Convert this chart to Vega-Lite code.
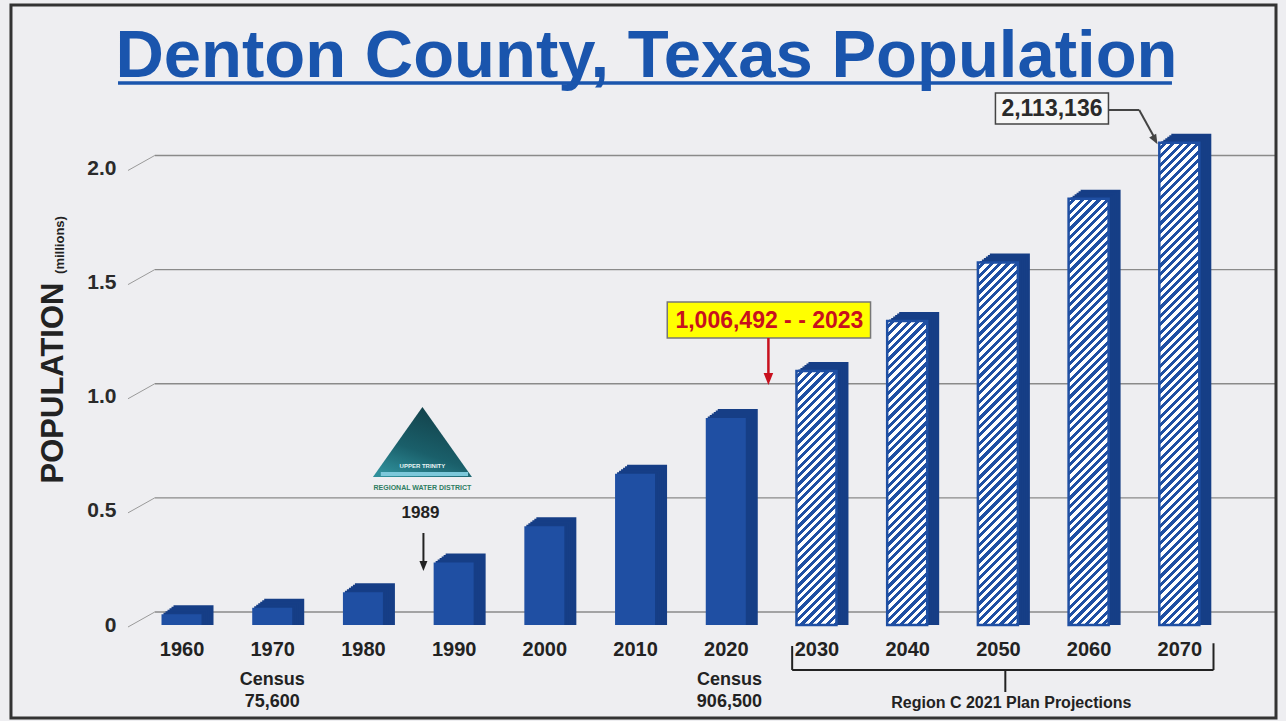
{
  "$schema": "https://vega.github.io/schema/vega-lite/v6.json",
  "width": 1162,
  "height": 525,
  "autosize": {"type": "none"},
  "padding": {"left": 120, "top": 100, "right": 4, "bottom": 96},
  "background": "#eeeef1",
  "config": {
    "view": {"stroke": null},
    "font": "Liberation Sans",
    "text": {"font": "Liberation Sans"},
    "axis": {"grid": false, "ticks": false, "domain": false, "labelFont": "Liberation Sans", "labelFontWeight": "bold", "titleFontSize": 1},
    "axisX": {"labelFontSize": 20, "labelColor": "#222222", "labelPadding": 14, "labelFlush": false, "labelOverlap": false},
    "axisY": {"labelFontSize": 21, "labelColor": "#2a2a2a", "labelPadding": 4}
  },
  "datasets": {
    "pop": [
      {"year": 1960, "pop": 0.0474, "type": "Census"},
      {"year": 1970, "pop": 0.0756, "type": "Census"},
      {"year": 1980, "pop": 0.1431, "type": "Census"},
      {"year": 1990, "pop": 0.2735, "type": "Census"},
      {"year": 2000, "pop": 0.433, "type": "Census"},
      {"year": 2010, "pop": 0.6626, "type": "Census"},
      {"year": 2020, "pop": 0.9065, "type": "Census"},
      {"year": 2030, "pop": 1.113, "type": "Projection"},
      {"year": 2040, "pop": 1.332, "type": "Projection"},
      {"year": 2050, "pop": 1.588, "type": "Projection"},
      {"year": 2060, "pop": 1.867, "type": "Projection"},
      {"year": 2070, "pop": 2.1131, "type": "Projection"}
    ],
    "grid": [{"v": 0}, {"v": 0.5}, {"v": 1}, {"v": 1.5}, {"v": 2}]
  },
  "layer": [
    {
      "data": {"name": "grid"},
      "mark": {"type": "rule", "color": "#8a8a8a", "strokeWidth": 1.3, "yOffset": -13},
      "encoding": {
        "x": {"datum": 1957.05, "type": "quantitative", "title": null, "scale": {"domain": [1953.77, 2080.77], "nice": false, "zero": false}},
        "x2": {"datum": 2080.77},
        "y": {"field": "v", "type": "quantitative", "title": null, "scale": {"domain": [0, 2.3], "nice": false, "zero": false},
          "axis": {"title": null, "values": [0, 0.5, 1, 1.5, 2], "labelExpr": "datum.value == 0 ? '0' : format(datum.value, '.1f')"}}
      }
    },
    {
      "data": {"name": "grid"},
      "mark": {"type": "rule", "color": "#9a9a9a", "strokeWidth": 1, "yOffset": 2, "y2Offset": -13},
      "encoding": {
        "x": {"datum": 1954.1, "type": "quantitative", "title": null},
        "x2": {"datum": 1957.05},
        "y": {"field": "v", "type": "quantitative", "title": null},
        "y2": {"field": "v"}
      }
    },
    {
      "data": {"name": "pop"},
      "mark": {"type": "bar", "orient": "vertical", "size": 40, "xOffset": 12, "yOffset": -9, "color": "#163e86"},
      "encoding": {
        "x": {"field": "year", "type": "quantitative", "title": null, "scale": {"domain": [1953.77, 2080.77], "nice": false, "zero": false},
          "axis": {"title": null, "values": [1960, 1970, 1980, 1990, 2000, 2010, 2020, 2030, 2040, 2050, 2060, 2070], "format": "d"}},
        "y": {"field": "pop", "type": "quantitative", "title": null, "stack": null}
      }
    },
    {
      "data": {"name": "pop"},
      "mark": {"type": "bar", "orient": "vertical", "size": 40, "xOffset": 10, "yOffset": -7.5, "color": "#163e86"},
      "encoding": {"x": {"field": "year", "type": "quantitative", "title": null}, "y": {"field": "pop", "type": "quantitative", "title": null, "stack": null}}
    },
    {
      "data": {"name": "pop"},
      "mark": {"type": "bar", "orient": "vertical", "size": 40, "xOffset": 8, "yOffset": -6, "color": "#163e86"},
      "encoding": {"x": {"field": "year", "type": "quantitative", "title": null}, "y": {"field": "pop", "type": "quantitative", "title": null, "stack": null}}
    },
    {
      "data": {"name": "pop"},
      "mark": {"type": "bar", "orient": "vertical", "size": 40, "xOffset": 6, "yOffset": -4.5, "color": "#163e86"},
      "encoding": {"x": {"field": "year", "type": "quantitative", "title": null}, "y": {"field": "pop", "type": "quantitative", "title": null, "stack": null}}
    },
    {
      "data": {"name": "pop"},
      "mark": {"type": "bar", "orient": "vertical", "size": 40, "xOffset": 4, "yOffset": -3, "color": "#163e86"},
      "encoding": {"x": {"field": "year", "type": "quantitative", "title": null}, "y": {"field": "pop", "type": "quantitative", "title": null, "stack": null}}
    },
    {
      "data": {"name": "pop"},
      "mark": {"type": "bar", "orient": "vertical", "size": 40, "xOffset": 2, "yOffset": -1.5, "color": "#163e86"},
      "encoding": {"x": {"field": "year", "type": "quantitative", "title": null}, "y": {"field": "pop", "type": "quantitative", "title": null, "stack": null}}
    },
    {
      "data": {"name": "pop"},
      "transform": [{"filter": "datum.type == 'Census'"}],
      "mark": {"type": "bar", "orient": "vertical", "size": 40, "color": "#1f4fa3"},
      "encoding": {"x": {"field": "year", "type": "quantitative", "title": null}, "y": {"field": "pop", "type": "quantitative", "title": null, "stack": null}}
    },
    {
      "data": {"name": "pop"},
      "transform": [{"filter": "datum.type == 'Projection'"}],
      "mark": {"type": "tick", "orient": "vertical", "thickness": 40, "size": 498, "yOffset": 249, "opacity": 1, "clip": true,
        "color": {"gradient": "linear", "x1": 0, "y1": 0, "x2": 0.08622, "y2": 1.0734, "stops": [
          {"offset": 0, "color": "#fff"},
          {"offset": 0.0078, "color": "#fff"}, {"offset": 0.0078, "color": "#1f4fa3"},
          {"offset": 0.0156, "color": "#1f4fa3"}, {"offset": 0.0156, "color": "#fff"},
          {"offset": 0.0234, "color": "#fff"}, {"offset": 0.0234, "color": "#1f4fa3"},
          {"offset": 0.0313, "color": "#1f4fa3"}, {"offset": 0.0313, "color": "#fff"},
          {"offset": 0.0391, "color": "#fff"}, {"offset": 0.0391, "color": "#1f4fa3"},
          {"offset": 0.0469, "color": "#1f4fa3"}, {"offset": 0.0469, "color": "#fff"},
          {"offset": 0.0547, "color": "#fff"}, {"offset": 0.0547, "color": "#1f4fa3"},
          {"offset": 0.0625, "color": "#1f4fa3"}, {"offset": 0.0625, "color": "#fff"},
          {"offset": 0.0703, "color": "#fff"}, {"offset": 0.0703, "color": "#1f4fa3"},
          {"offset": 0.0781, "color": "#1f4fa3"}, {"offset": 0.0781, "color": "#fff"},
          {"offset": 0.0859, "color": "#fff"}, {"offset": 0.0859, "color": "#1f4fa3"},
          {"offset": 0.0938, "color": "#1f4fa3"}, {"offset": 0.0938, "color": "#fff"},
          {"offset": 0.1016, "color": "#fff"}, {"offset": 0.1016, "color": "#1f4fa3"},
          {"offset": 0.1094, "color": "#1f4fa3"}, {"offset": 0.1094, "color": "#fff"},
          {"offset": 0.1172, "color": "#fff"}, {"offset": 0.1172, "color": "#1f4fa3"},
          {"offset": 0.125, "color": "#1f4fa3"}, {"offset": 0.125, "color": "#fff"},
          {"offset": 0.1328, "color": "#fff"}, {"offset": 0.1328, "color": "#1f4fa3"},
          {"offset": 0.1406, "color": "#1f4fa3"}, {"offset": 0.1406, "color": "#fff"},
          {"offset": 0.1484, "color": "#fff"}, {"offset": 0.1484, "color": "#1f4fa3"},
          {"offset": 0.1563, "color": "#1f4fa3"}, {"offset": 0.1563, "color": "#fff"},
          {"offset": 0.1641, "color": "#fff"}, {"offset": 0.1641, "color": "#1f4fa3"},
          {"offset": 0.1719, "color": "#1f4fa3"}, {"offset": 0.1719, "color": "#fff"},
          {"offset": 0.1797, "color": "#fff"}, {"offset": 0.1797, "color": "#1f4fa3"},
          {"offset": 0.1875, "color": "#1f4fa3"}, {"offset": 0.1875, "color": "#fff"},
          {"offset": 0.1953, "color": "#fff"}, {"offset": 0.1953, "color": "#1f4fa3"},
          {"offset": 0.2031, "color": "#1f4fa3"}, {"offset": 0.2031, "color": "#fff"},
          {"offset": 0.2109, "color": "#fff"}, {"offset": 0.2109, "color": "#1f4fa3"},
          {"offset": 0.2188, "color": "#1f4fa3"}, {"offset": 0.2188, "color": "#fff"},
          {"offset": 0.2266, "color": "#fff"}, {"offset": 0.2266, "color": "#1f4fa3"},
          {"offset": 0.2344, "color": "#1f4fa3"}, {"offset": 0.2344, "color": "#fff"},
          {"offset": 0.2422, "color": "#fff"}, {"offset": 0.2422, "color": "#1f4fa3"},
          {"offset": 0.25, "color": "#1f4fa3"}, {"offset": 0.25, "color": "#fff"},
          {"offset": 0.2578, "color": "#fff"}, {"offset": 0.2578, "color": "#1f4fa3"},
          {"offset": 0.2656, "color": "#1f4fa3"}, {"offset": 0.2656, "color": "#fff"},
          {"offset": 0.2734, "color": "#fff"}, {"offset": 0.2734, "color": "#1f4fa3"},
          {"offset": 0.2813, "color": "#1f4fa3"}, {"offset": 0.2813, "color": "#fff"},
          {"offset": 0.2891, "color": "#fff"}, {"offset": 0.2891, "color": "#1f4fa3"},
          {"offset": 0.2969, "color": "#1f4fa3"}, {"offset": 0.2969, "color": "#fff"},
          {"offset": 0.3047, "color": "#fff"}, {"offset": 0.3047, "color": "#1f4fa3"},
          {"offset": 0.3125, "color": "#1f4fa3"}, {"offset": 0.3125, "color": "#fff"},
          {"offset": 0.3203, "color": "#fff"}, {"offset": 0.3203, "color": "#1f4fa3"},
          {"offset": 0.3281, "color": "#1f4fa3"}, {"offset": 0.3281, "color": "#fff"},
          {"offset": 0.3359, "color": "#fff"}, {"offset": 0.3359, "color": "#1f4fa3"},
          {"offset": 0.3438, "color": "#1f4fa3"}, {"offset": 0.3438, "color": "#fff"},
          {"offset": 0.3516, "color": "#fff"}, {"offset": 0.3516, "color": "#1f4fa3"},
          {"offset": 0.3594, "color": "#1f4fa3"}, {"offset": 0.3594, "color": "#fff"},
          {"offset": 0.3672, "color": "#fff"}, {"offset": 0.3672, "color": "#1f4fa3"},
          {"offset": 0.375, "color": "#1f4fa3"}, {"offset": 0.375, "color": "#fff"},
          {"offset": 0.3828, "color": "#fff"}, {"offset": 0.3828, "color": "#1f4fa3"},
          {"offset": 0.3906, "color": "#1f4fa3"}, {"offset": 0.3906, "color": "#fff"},
          {"offset": 0.3984, "color": "#fff"}, {"offset": 0.3984, "color": "#1f4fa3"},
          {"offset": 0.4063, "color": "#1f4fa3"}, {"offset": 0.4063, "color": "#fff"},
          {"offset": 0.4141, "color": "#fff"}, {"offset": 0.4141, "color": "#1f4fa3"},
          {"offset": 0.4219, "color": "#1f4fa3"}, {"offset": 0.4219, "color": "#fff"},
          {"offset": 0.4297, "color": "#fff"}, {"offset": 0.4297, "color": "#1f4fa3"},
          {"offset": 0.4375, "color": "#1f4fa3"}, {"offset": 0.4375, "color": "#fff"},
          {"offset": 0.4453, "color": "#fff"}, {"offset": 0.4453, "color": "#1f4fa3"},
          {"offset": 0.4531, "color": "#1f4fa3"}, {"offset": 0.4531, "color": "#fff"},
          {"offset": 0.4609, "color": "#fff"}, {"offset": 0.4609, "color": "#1f4fa3"},
          {"offset": 0.4688, "color": "#1f4fa3"}, {"offset": 0.4688, "color": "#fff"},
          {"offset": 0.4766, "color": "#fff"}, {"offset": 0.4766, "color": "#1f4fa3"},
          {"offset": 0.4844, "color": "#1f4fa3"}, {"offset": 0.4844, "color": "#fff"},
          {"offset": 0.4922, "color": "#fff"}, {"offset": 0.4922, "color": "#1f4fa3"},
          {"offset": 0.5, "color": "#1f4fa3"}, {"offset": 0.5, "color": "#fff"},
          {"offset": 0.5078, "color": "#fff"}, {"offset": 0.5078, "color": "#1f4fa3"},
          {"offset": 0.5156, "color": "#1f4fa3"}, {"offset": 0.5156, "color": "#fff"},
          {"offset": 0.5234, "color": "#fff"}, {"offset": 0.5234, "color": "#1f4fa3"},
          {"offset": 0.5313, "color": "#1f4fa3"}, {"offset": 0.5313, "color": "#fff"},
          {"offset": 0.5391, "color": "#fff"}, {"offset": 0.5391, "color": "#1f4fa3"},
          {"offset": 0.5469, "color": "#1f4fa3"}, {"offset": 0.5469, "color": "#fff"},
          {"offset": 0.5547, "color": "#fff"}, {"offset": 0.5547, "color": "#1f4fa3"},
          {"offset": 0.5625, "color": "#1f4fa3"}, {"offset": 0.5625, "color": "#fff"},
          {"offset": 0.5703, "color": "#fff"}, {"offset": 0.5703, "color": "#1f4fa3"},
          {"offset": 0.5781, "color": "#1f4fa3"}, {"offset": 0.5781, "color": "#fff"},
          {"offset": 0.5859, "color": "#fff"}, {"offset": 0.5859, "color": "#1f4fa3"},
          {"offset": 0.5938, "color": "#1f4fa3"}, {"offset": 0.5938, "color": "#fff"},
          {"offset": 0.6016, "color": "#fff"}, {"offset": 0.6016, "color": "#1f4fa3"},
          {"offset": 0.6094, "color": "#1f4fa3"}, {"offset": 0.6094, "color": "#fff"},
          {"offset": 0.6172, "color": "#fff"}, {"offset": 0.6172, "color": "#1f4fa3"},
          {"offset": 0.625, "color": "#1f4fa3"}, {"offset": 0.625, "color": "#fff"},
          {"offset": 0.6328, "color": "#fff"}, {"offset": 0.6328, "color": "#1f4fa3"},
          {"offset": 0.6406, "color": "#1f4fa3"}, {"offset": 0.6406, "color": "#fff"},
          {"offset": 0.6484, "color": "#fff"}, {"offset": 0.6484, "color": "#1f4fa3"},
          {"offset": 0.6563, "color": "#1f4fa3"}, {"offset": 0.6563, "color": "#fff"},
          {"offset": 0.6641, "color": "#fff"}, {"offset": 0.6641, "color": "#1f4fa3"},
          {"offset": 0.6719, "color": "#1f4fa3"}, {"offset": 0.6719, "color": "#fff"},
          {"offset": 0.6797, "color": "#fff"}, {"offset": 0.6797, "color": "#1f4fa3"},
          {"offset": 0.6875, "color": "#1f4fa3"}, {"offset": 0.6875, "color": "#fff"},
          {"offset": 0.6953, "color": "#fff"}, {"offset": 0.6953, "color": "#1f4fa3"},
          {"offset": 0.7031, "color": "#1f4fa3"}, {"offset": 0.7031, "color": "#fff"},
          {"offset": 0.7109, "color": "#fff"}, {"offset": 0.7109, "color": "#1f4fa3"},
          {"offset": 0.7188, "color": "#1f4fa3"}, {"offset": 0.7188, "color": "#fff"},
          {"offset": 0.7266, "color": "#fff"}, {"offset": 0.7266, "color": "#1f4fa3"},
          {"offset": 0.7344, "color": "#1f4fa3"}, {"offset": 0.7344, "color": "#fff"},
          {"offset": 0.7422, "color": "#fff"}, {"offset": 0.7422, "color": "#1f4fa3"},
          {"offset": 0.75, "color": "#1f4fa3"}, {"offset": 0.75, "color": "#fff"},
          {"offset": 0.7578, "color": "#fff"}, {"offset": 0.7578, "color": "#1f4fa3"},
          {"offset": 0.7656, "color": "#1f4fa3"}, {"offset": 0.7656, "color": "#fff"},
          {"offset": 0.7734, "color": "#fff"}, {"offset": 0.7734, "color": "#1f4fa3"},
          {"offset": 0.7813, "color": "#1f4fa3"}, {"offset": 0.7813, "color": "#fff"},
          {"offset": 0.7891, "color": "#fff"}, {"offset": 0.7891, "color": "#1f4fa3"},
          {"offset": 0.7969, "color": "#1f4fa3"}, {"offset": 0.7969, "color": "#fff"},
          {"offset": 0.8047, "color": "#fff"}, {"offset": 0.8047, "color": "#1f4fa3"},
          {"offset": 0.8125, "color": "#1f4fa3"}, {"offset": 0.8125, "color": "#fff"},
          {"offset": 0.8203, "color": "#fff"}, {"offset": 0.8203, "color": "#1f4fa3"},
          {"offset": 0.8281, "color": "#1f4fa3"}, {"offset": 0.8281, "color": "#fff"},
          {"offset": 0.8359, "color": "#fff"}, {"offset": 0.8359, "color": "#1f4fa3"},
          {"offset": 0.8438, "color": "#1f4fa3"}, {"offset": 0.8438, "color": "#fff"},
          {"offset": 0.8516, "color": "#fff"}, {"offset": 0.8516, "color": "#1f4fa3"},
          {"offset": 0.8594, "color": "#1f4fa3"}, {"offset": 0.8594, "color": "#fff"},
          {"offset": 0.8672, "color": "#fff"}, {"offset": 0.8672, "color": "#1f4fa3"},
          {"offset": 0.875, "color": "#1f4fa3"}, {"offset": 0.875, "color": "#fff"},
          {"offset": 0.8828, "color": "#fff"}, {"offset": 0.8828, "color": "#1f4fa3"},
          {"offset": 0.8906, "color": "#1f4fa3"}, {"offset": 0.8906, "color": "#fff"},
          {"offset": 0.8984, "color": "#fff"}, {"offset": 0.8984, "color": "#1f4fa3"},
          {"offset": 0.9063, "color": "#1f4fa3"}, {"offset": 0.9063, "color": "#fff"},
          {"offset": 0.9141, "color": "#fff"}, {"offset": 0.9141, "color": "#1f4fa3"},
          {"offset": 0.9219, "color": "#1f4fa3"}, {"offset": 0.9219, "color": "#fff"},
          {"offset": 0.9297, "color": "#fff"}, {"offset": 0.9297, "color": "#1f4fa3"},
          {"offset": 0.9375, "color": "#1f4fa3"}, {"offset": 0.9375, "color": "#fff"},
          {"offset": 0.9453, "color": "#fff"}, {"offset": 0.9453, "color": "#1f4fa3"},
          {"offset": 0.9531, "color": "#1f4fa3"}, {"offset": 0.9531, "color": "#fff"},
          {"offset": 0.9609, "color": "#fff"}, {"offset": 0.9609, "color": "#1f4fa3"},
          {"offset": 0.9688, "color": "#1f4fa3"}, {"offset": 0.9688, "color": "#fff"},
          {"offset": 0.9766, "color": "#fff"}, {"offset": 0.9766, "color": "#1f4fa3"},
          {"offset": 0.9844, "color": "#1f4fa3"}, {"offset": 0.9844, "color": "#fff"},
          {"offset": 0.9922, "color": "#fff"}, {"offset": 0.9922, "color": "#1f4fa3"},
          {"offset": 1, "color": "#1f4fa3"}
        ]}},
      "encoding": {"x": {"field": "year", "type": "quantitative", "title": null}, "y": {"field": "pop", "type": "quantitative", "title": null}}
    },
    {
      "data": {"name": "pop"},
      "transform": [{"filter": "datum.type == 'Projection'"}],
      "mark": {"type": "bar", "orient": "vertical", "size": 40, "filled": false, "color": "#1f4fa3", "strokeWidth": 2.5},
      "encoding": {"x": {"field": "year", "type": "quantitative", "title": null}, "y": {"field": "pop", "type": "quantitative", "title": null, "stack": null}}
    },
    {
      "data": {"values": [{}]},
      "mark": {"type": "text", "text": "Denton County, Texas Population", "font": "Liberation Sans", "fontSize": 67, "fontWeight": "bold", "color": "#1a55ad", "align": "center", "baseline": "alphabetic"},
      "encoding": {"x": {"datum": 2011.26, "type": "quantitative", "title": null}, "y": {"datum": 2.4008, "type": "quantitative", "title": null}}
    },
    {
      "data": {"values": [{}]},
      "mark": {"type": "rule", "color": "#1a55ad", "strokeWidth": 3.5},
      "encoding": {"x": {"datum": 1953.0, "type": "quantitative", "title": null}, "x2": {"datum": 2069.19}, "y": {"datum": 2.3745, "type": "quantitative", "title": null}}
    },
    {
      "data": {"values": [{}]},
      "mark": {"type": "text", "text": "POPULATION", "fontSize": 31, "fontWeight": "bold", "color": "#222222", "angle": 270, "align": "center", "baseline": "alphabetic"},
      "encoding": {"x": {"datum": 1946.99, "type": "quantitative", "title": null}, "y": {"datum": 1.0602, "type": "quantitative", "title": null}}
    },
    {
      "data": {"values": [{}]},
      "mark": {"type": "text", "text": "(millions)", "fontSize": 13, "fontWeight": "bold", "color": "#222222", "angle": 270, "align": "center", "baseline": "alphabetic"},
      "encoding": {"x": {"datum": 1947.1, "type": "quantitative", "title": null}, "y": {"datum": 1.6648, "type": "quantitative", "title": null}}
    },
    {
      "data": {"values": [{}]},
      "mark": {"type": "point", "shape": "M0,-0.707L1,0.707L-1,0.707Z", "size": 9801, "filled": true, "opacity": 1, "strokeWidth": 0,
        "fill": {"gradient": "linear", "x1": 0.7, "y1": 0, "x2": 0.2, "y2": 1, "stops": [{"offset": 0, "color": "#123f48"}, {"offset": 0.6, "color": "#1a5f6a"}, {"offset": 1, "color": "#2f8f9a"}]}},
      "encoding": {"x": {"datum": 1986.56, "type": "quantitative", "title": null}, "y": {"datum": 0.8017, "type": "quantitative", "title": null}}
    },
    {
      "data": {"values": [{}]},
      "mark": {"type": "rule", "color": "#7cc8da", "strokeWidth": 4},
      "encoding": {"x": {"datum": 1981.97, "type": "quantitative", "title": null}, "x2": {"datum": 1991.59}, "y": {"datum": 0.6615, "type": "quantitative", "title": null}}
    },
    {
      "data": {"values": [{}]},
      "mark": {"type": "text", "text": "UPPER TRINITY", "fontSize": 6, "fontWeight": "bold", "color": "#e8f4f4", "align": "center", "baseline": "middle"},
      "encoding": {"x": {"datum": 1986.56, "type": "quantitative", "title": null}, "y": {"datum": 0.6966, "type": "quantitative", "title": null}}
    },
    {
      "data": {"values": [{}]},
      "mark": {"type": "text", "text": "REGIONAL WATER DISTRICT", "fontSize": 7, "fontWeight": "bold", "color": "#2f7d62", "align": "center", "baseline": "middle"},
      "encoding": {"x": {"datum": 1986.56, "type": "quantitative", "title": null}, "y": {"datum": 0.6002, "type": "quantitative", "title": null}}
    },
    {
      "data": {"values": [{}]},
      "mark": {"type": "text", "text": "1989", "fontSize": 17, "fontWeight": "bold", "color": "#222222", "align": "center", "baseline": "middle"},
      "encoding": {"x": {"datum": 1986.34, "type": "quantitative", "title": null}, "y": {"datum": 0.4907, "type": "quantitative", "title": null}}
    },
    {
      "data": {"values": [{}]},
      "mark": {"type": "rule", "color": "#222222", "strokeWidth": 2},
      "encoding": {"x": {"datum": 1986.67, "type": "quantitative", "title": null}, "y": {"datum": 0.4031, "type": "quantitative", "title": null}, "y2": {"datum": 0.2716}}
    },
    {
      "data": {"values": [{}]},
      "mark": {"type": "point", "shape": "M-0.8,-1L0.8,-1L0,1Z", "size": 100, "filled": true, "opacity": 1, "color": "#222222"},
      "encoding": {"x": {"datum": 1986.67, "type": "quantitative", "title": null}, "y": {"datum": 0.2585, "type": "quantitative", "title": null}}
    },
    {
      "data": {"values": [{}]},
      "mark": {"type": "rect", "color": "#ffff00", "stroke": "#777777", "strokeWidth": 1.5},
      "encoding": {"x": {"datum": 2013.55, "type": "quantitative", "title": null}, "x2": {"datum": 2035.96}, "y": {"datum": 1.4151, "type": "quantitative", "title": null}, "y2": {"datum": 1.2573}}
    },
    {
      "data": {"values": [{}]},
      "mark": {"type": "text", "text": "1,006,492 - - 2023", "fontSize": 23, "fontWeight": "bold", "color": "#c8101e", "align": "center", "baseline": "middle"},
      "encoding": {"x": {"datum": 2024.81, "type": "quantitative", "title": null}, "y": {"datum": 1.3318, "type": "quantitative", "title": null}}
    },
    {
      "data": {"values": [{}]},
      "mark": {"type": "rule", "color": "#c8101e", "strokeWidth": 2.5},
      "encoding": {"x": {"datum": 2024.7, "type": "quantitative", "title": null}, "y": {"datum": 1.2573, "type": "quantitative", "title": null}, "y2": {"datum": 1.0908}}
    },
    {
      "data": {"values": [{}]},
      "mark": {"type": "point", "shape": "M-0.8,-1L0.8,-1L0,1Z", "size": 144, "filled": true, "opacity": 1, "color": "#c8101e"},
      "encoding": {"x": {"datum": 2024.7, "type": "quantitative", "title": null}, "y": {"datum": 1.0777, "type": "quantitative", "title": null}}
    },
    {
      "data": {"values": [{}]},
      "mark": {"type": "rect", "color": "#f6f6f6", "stroke": "#444444", "strokeWidth": 1.5},
      "encoding": {"x": {"datum": 2049.73, "type": "quantitative", "title": null}, "x2": {"datum": 2062.19}, "y": {"datum": 2.3307, "type": "quantitative", "title": null}, "y2": {"datum": 2.1949}}
    },
    {
      "data": {"values": [{}]},
      "mark": {"type": "text", "text": "2,113,136", "fontSize": 23, "fontWeight": "bold", "color": "#2a2a2a", "align": "center", "baseline": "middle"},
      "encoding": {"x": {"datum": 2055.96, "type": "quantitative", "title": null}, "y": {"datum": 2.2606, "type": "quantitative", "title": null}}
    },
    {
      "data": {"values": [{}]},
      "mark": {"type": "rule", "color": "#444444", "strokeWidth": 2},
      "encoding": {"x": {"datum": 2062.19, "type": "quantitative", "title": null}, "x2": {"datum": 2065.58}, "y": {"datum": 2.2562, "type": "quantitative", "title": null}}
    },
    {
      "data": {"values": [{}]},
      "mark": {"type": "rule", "color": "#444444", "strokeWidth": 2},
      "encoding": {"x": {"datum": 2065.58, "type": "quantitative", "title": null}, "x2": {"datum": 2067.22}, "y": {"datum": 2.2562, "type": "quantitative", "title": null}, "y2": {"datum": 2.1379}}
    },
    {
      "data": {"values": [{}]},
      "mark": {"type": "point", "shape": "M-0.8,-1L0.8,-1L0,1Z", "size": 100, "filled": true, "opacity": 1, "color": "#444444", "angle": -29},
      "encoding": {"x": {"datum": 2067.33, "type": "quantitative", "title": null}, "y": {"datum": 2.1248, "type": "quantitative", "title": null}}
    },
    {
      "data": {"values": [{}]},
      "mark": {"type": "text", "text": ["Census", "75,600"], "fontSize": 18, "fontWeight": "bold", "color": "#222222", "align": "center", "baseline": "top", "lineHeight": 22},
      "encoding": {"x": {"datum": 1970, "type": "quantitative", "title": null}, "y": {"datum": -0.2015, "type": "quantitative", "title": null}}
    },
    {
      "data": {"values": [{}]},
      "mark": {"type": "text", "text": ["Census", "906,500"], "fontSize": 18, "fontWeight": "bold", "color": "#222222", "align": "center", "baseline": "top", "lineHeight": 22},
      "encoding": {"x": {"datum": 2020.4, "type": "quantitative", "title": null}, "y": {"datum": -0.2015, "type": "quantitative", "title": null}}
    },
    {
      "data": {"values": [{}]},
      "mark": {"type": "rule", "color": "#222222", "strokeWidth": 2},
      "encoding": {"x": {"datum": 2027.32, "type": "quantitative", "title": null}, "y": {"datum": -0.092, "type": "quantitative", "title": null}, "y2": {"datum": -0.1971}}
    },
    {
      "data": {"values": [{}]},
      "mark": {"type": "rule", "color": "#222222", "strokeWidth": 2},
      "encoding": {"x": {"datum": 2073.77, "type": "quantitative", "title": null}, "y": {"datum": -0.08, "type": "quantitative", "title": null}, "y2": {"datum": -0.1971}}
    },
    {
      "data": {"values": [{}]},
      "mark": {"type": "rule", "color": "#222222", "strokeWidth": 2},
      "encoding": {"x": {"datum": 2027.32, "type": "quantitative", "title": null}, "x2": {"datum": 2073.77}, "y": {"datum": -0.1971, "type": "quantitative", "title": null}}
    },
    {
      "data": {"values": [{}]},
      "mark": {"type": "rule", "color": "#222222", "strokeWidth": 2},
      "encoding": {"x": {"datum": 2050.82, "type": "quantitative", "title": null}, "y": {"datum": -0.1971, "type": "quantitative", "title": null}, "y2": {"datum": -0.2935}}
    },
    {
      "data": {"values": [{}]},
      "mark": {"type": "text", "text": "Region C 2021 Plan Projections", "fontSize": 16, "fontWeight": "bold", "color": "#222222", "align": "center", "baseline": "middle"},
      "encoding": {"x": {"datum": 2051.48, "type": "quantitative", "title": null}, "y": {"datum": -0.3417, "type": "quantitative", "title": null}}
    },
    {
      "data": {"values": [{}]},
      "mark": {"type": "rect", "filled": false, "color": "#333333", "strokeWidth": 3},
      "encoding": {"x": {"datum": 1941.2, "type": "quantitative", "title": null}, "x2": {"datum": 2080.66}, "y": {"datum": 2.7162, "type": "quantitative", "title": null}, "y2": {"datum": -0.4074}}
    }
  ]
}
